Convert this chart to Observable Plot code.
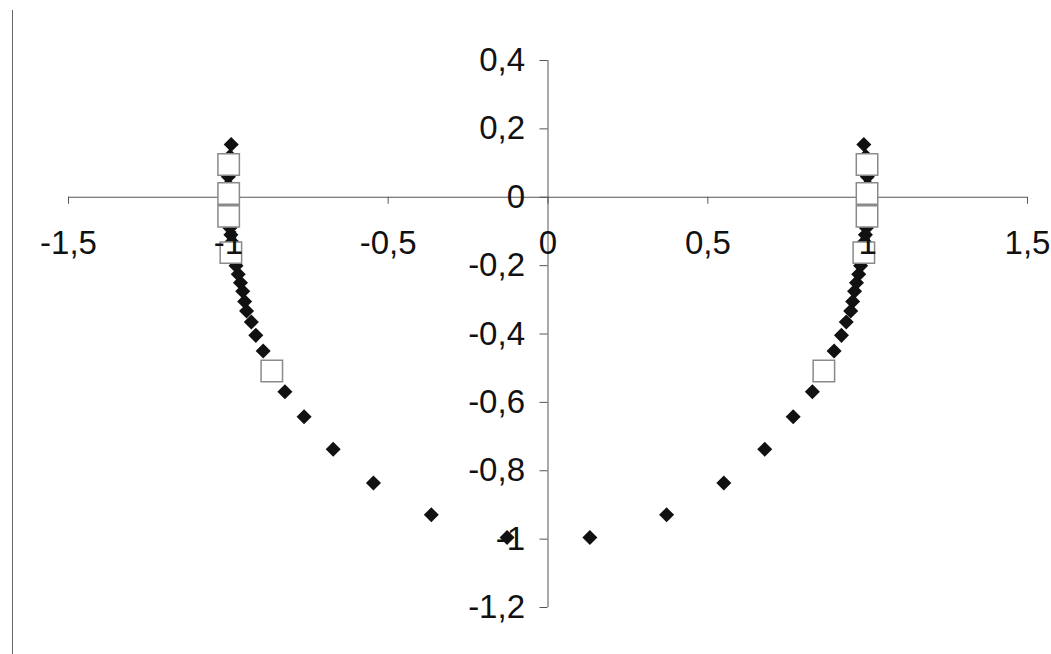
<!DOCTYPE html>
<html>
<head>
<meta charset="utf-8">
<script src="https://cdn.jsdelivr.net/npm/d3@7"></script>
<script src="https://cdn.jsdelivr.net/npm/@observablehq/plot@0.6"></script>
<style>
  html, body { margin: 0; padding: 0; background: #fff; }
  #wrap { position: relative; width: 1051px; height: 654px; overflow: hidden; }
  #wrap svg { position: absolute; left: 0; top: 0; }
  #edge { position: absolute; left: 12px; top: 10px; bottom: 0; width: 1px; background: #666; }
</style>
</head>
<body>
<div id="wrap"></div>
<script>
// Axis ticks and their labels (decimal comma)
const xTicks = [-1.5, -1, -0.5, 0, 0.5, 1, 1.5];
const xTickLabels = ["-1,5", "-1", "-0,5", "0", "0,5", "1", "1,5"];
const yTicks = [0.4, 0.2, 0, -0.2, -0.4, -0.6, -0.8, -1, -1.2];
const yTickLabels = ["0,4", "0,2", "0", "-0,2", "-0,4", "-0,6", "-0,8", "-1", "-1,2"];

// Series 1: filled diamonds, one branch on each side
const diamondY = [0.154, 0.12, 0.09, 0.06, 0.035, 0.01, -0.015, -0.04, -0.065, -0.09,
  -0.11, -0.13, -0.15, -0.17, -0.2, -0.225, -0.25, -0.275, -0.305, -0.333,
  -0.365, -0.404, -0.45, -0.507, -0.569, -0.642, -0.737, -0.836, -0.929, -0.995];
const diamondXRight = [0.988, 0.994, 0.997, 0.999, 1.0, 1.0, 1.0, 0.999, 0.998, 0.996,
  0.993, 0.99, 0.986, 0.982, 0.978, 0.972, 0.965, 0.959, 0.953, 0.947,
  0.933, 0.918, 0.895, 0.866, 0.827, 0.767, 0.678, 0.55, 0.371, 0.131];
const diamondXLeft = [-0.991, -0.995, -0.998, -1.0, -1.0, -1.0, -1.0, -0.999, -0.997, -0.995,
  -0.992, -0.989, -0.985, -0.98, -0.976, -0.969, -0.962, -0.955, -0.949, -0.943,
  -0.928, -0.914, -0.891, -0.866, -0.823, -0.763, -0.672, -0.546, -0.365, -0.128];

// Series 2: open squares
const squareY = [0.096, 0.011, -0.056, -0.162, -0.508];
const squareXRight = [0.998, 0.998, 0.998, 0.988, 0.863];
const squareXLeft = [-0.999, -0.999, -0.999, -0.992, -0.864];

const diamonds = [
  ...diamondY.map((y, i) => ({x: diamondXRight[i], y})),
  ...diamondY.map((y, i) => ({x: diamondXLeft[i], y}))
];
const squares = [
  ...squareY.map((y, i) => ({x: squareXRight[i], y})),
  ...squareY.map((y, i) => ({x: squareXLeft[i], y}))
];

// Diamond drawn as a square turned 45 degrees (equal width and height)
const diamondSymbol = {
  draw(ctx, size) {
    const h = Math.sqrt(size / 2);
    ctx.moveTo(0, -h);
    ctx.lineTo(h, 0);
    ctx.lineTo(0, h);
    ctx.lineTo(-h, 0);
    ctx.closePath();
  }
};

const axisColor = "#555";
const textColor = "#111";
const font = "'Liberation Sans', Arial, Helvetica, sans-serif";

const chart = Plot.plot({
  width: 1051,
  height: 654,
  marginLeft: 68,
  marginRight: 24,
  marginTop: 60,
  marginBottom: 47,
  style: {fontFamily: font, background: "transparent"},
  x: {domain: [-1.5, 1.5], axis: null},
  y: {domain: [-1.2, 0.4], axis: null},
  marks: [
    // axes crossing at the origin
    Plot.ruleY([0], {x1: xTicks[0], x2: xTicks[xTicks.length - 1], stroke: axisColor, strokeWidth: 1}),
    Plot.ruleX([0], {y1: yTicks[yTicks.length - 1], y2: yTicks[0], stroke: axisColor, strokeWidth: 1}),
    // tick marks: below the x axis, left of the y axis
    Plot.ruleX(xTicks, {x: d => d, y1: 0, y2: 0, insetBottom: -7, stroke: axisColor, strokeWidth: 1}),
    Plot.ruleY(yTicks, {y: d => d, x1: 0, x2: 0, insetLeft: -8, stroke: axisColor, strokeWidth: 1}),
    // data
    Plot.dot(diamonds, {x: "x", y: "y", symbol: diamondSymbol, r: 6, fill: "#111", stroke: "none"}),
    Plot.dot(squares, {x: "x", y: "y", symbol: "square", r: 12.1, fill: "#fff", stroke: "#8a8a8a", strokeWidth: 1.5}),
    // tick labels
    Plot.text(xTicks, {x: d => d, y: 0, text: (d, i) => xTickLabels[i], dy: 46, fontSize: 33, fill: textColor}),
    Plot.text(yTicks, {x: 0, y: d => d, text: (d, i) => yTickLabels[i], textAnchor: "end", dx: -23, fontSize: 33, fill: textColor})
  ]
});

const wrap = document.getElementById("wrap");
wrap.appendChild(chart);
const edge = document.createElement("div");
edge.id = "edge";
wrap.appendChild(edge);
</script>
</body>
</html>
